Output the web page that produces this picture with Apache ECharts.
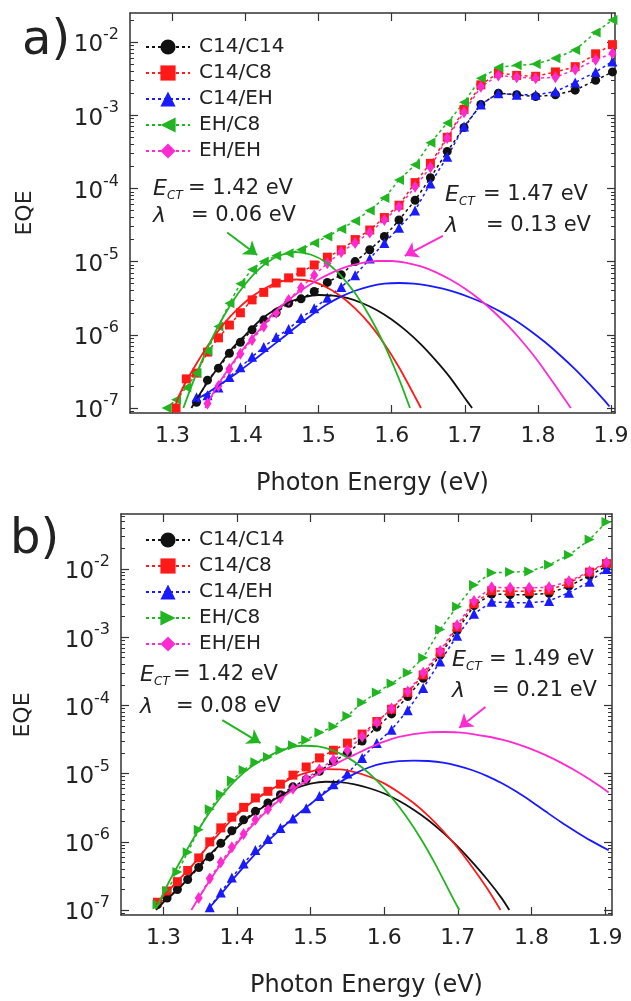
<!DOCTYPE html>
<html>
<head>
<meta charset="utf-8">
<title>EQE vs photon energy</title>
<script src="https://cdn.jsdelivr.net/npm/echarts@6.0.0/dist/echarts.min.js"></script>
<style>
  html, body { margin: 0; padding: 0; background: #fff; }
  #chart { width: 631px; height: 1001px; }
</style>
</head>
<body>
<div id="chart"></div>
<script>
const FONT = 'DejaVu Sans';
const AXIS = '#333';
const TEXT = '#222';

// photon energy of each measured point (eV), shared by both panels
const energy = [1.292, 1.305, 1.319, 1.333, 1.348, 1.363, 1.378, 1.393, 1.409, 1.425, 1.442, 1.459, 1.476, 1.494, 1.512, 1.531,
  1.550, 1.570, 1.590, 1.610, 1.632, 1.653, 1.676, 1.699, 1.722, 1.746, 1.771, 1.797, 1.824, 1.851, 1.879, 1.902];

// panel a) measured EQE
const aC14C14 = [null, null, null, 1.2e-7, 2.4e-7, 3.5e-7, 5.6e-7, 7.9e-7, 1.17e-6, 1.6e-6, 2.0e-6, 2.7e-6, 3.1e-6, 3.9e-6, 5.2e-6, 6.6e-6,
  1.0e-5, 1.45e-5, 2.2e-5, 3.7e-5, 6.9e-5, 1.4e-4, 3.2e-4, 6.8e-4, 1.4e-3, 2.0e-3, 1.9e-3, 1.8e-3, 1.9e-3, 2.2e-3, 3.0e-3, 3.9e-3];
const aC14C8 = [null, 1.0e-7, 2.5e-7, 3.0e-7, 5.8e-7, 9.1e-7, 1.36e-6, 2.0e-6, 3.0e-6, 3.8e-6, 5.1e-6, 6.0e-6, 7.2e-6, 9.0e-6, 1.15e-5, 1.45e-5,
  2.0e-5, 2.7e-5, 4.0e-5, 5.9e-5, 1.2e-4, 2.2e-4, 5.0e-4, 1.2e-3, 2.6e-3, 3.8e-3, 3.5e-3, 3.4e-3, 3.9e-3, 4.6e-3, 6.9e-3, 9.2e-3];
const aC14EH = [null, null, null, 1.4e-7, 1.5e-7, 1.9e-7, 2.65e-7, 3.6e-7, 5.0e-7, 6.8e-7, 9.3e-7, 1.2e-6, 1.7e-6, 2.3e-6, 3.2e-6, 4.5e-6,
  6.5e-6, 1.1e-5, 1.8e-5, 2.9e-5, 5.0e-5, 1.17e-4, 2.7e-4, 7.0e-4, 1.4e-3, 2.0e-3, 1.9e-3, 1.9e-3, 2.1e-3, 2.8e-3, 3.9e-3, 5.4e-3];
const aEHC8 = [1.0e-7, 1.3e-7, 1.9e-7, 3.0e-7, 6.0e-7, 1.3e-6, 2.7e-6, 5.0e-6, 7.8e-6, 1.0e-5, 1.2e-5, 1.3e-5, 1.45e-5, 1.8e-5, 2.2e-5, 2.8e-5,
  3.6e-5, 5.0e-5, 7.4e-5, 1.3e-4, 2.1e-4, 4.2e-4, 7.8e-4, 1.5e-3, 3.2e-3, 4.5e-3, 4.8e-3, 5.0e-3, 6.0e-3, 7.8e-3, 1.35e-2, 2.0e-2];
const aEHEH = [null, null, null, null, 1.15e-7, 2.0e-7, 3.4e-7, 5.5e-7, 8.5e-7, 1.3e-6, 2.0e-6, 3.0e-6, 4.4e-6, 6.5e-6, 9.5e-6, 1.35e-5,
  1.8e-5, 2.5e-5, 3.7e-5, 5.6e-5, 1.05e-4, 1.95e-4, 4.9e-4, 1.1e-3, 2.45e-3, 3.5e-3, 3.3e-3, 3.2e-3, 3.3e-3, 4.2e-3, 5.7e-3, 7.0e-3];

// panel b) measured EQE
const bC14C14 = [1.2e-7, 1.5e-7, 2.0e-7, 2.8e-7, 4.2e-7, 6.0e-7, 9.5e-7, 1.45e-6, 2.1e-6, 2.8e-6, 3.7e-6, 4.9e-6, 6.4e-6, 8.2e-6, 1.08e-5, 1.5e-5,
  2.0e-5, 3.0e-5, 4.8e-5, 7.5e-5, 1.35e-4, 2.5e-4, 5.5e-4, 1.25e-3, 2.9e-3, 4.3e-3, 4.2e-3, 4.2e-3, 4.4e-3, 5.6e-3, 8.0e-3, 1.1e-2];
const bC14C8 = [1.3e-7, 1.9e-7, 2.6e-7, 3.8e-7, 5.8e-7, 1.0e-6, 1.6e-6, 2.3e-6, 3.2e-6, 4.4e-6, 5.5e-6, 7.0e-6, 9.5e-6, 1.25e-5, 1.7e-5, 2.2e-5,
  2.8e-5, 3.8e-5, 5.8e-5, 8.8e-5, 1.55e-4, 2.8e-4, 6.0e-4, 1.4e-3, 3.1e-3, 4.8e-3, 4.7e-3, 4.7e-3, 4.9e-3, 6.2e-3, 9.0e-3, 1.2e-2];
const bC14EH = [null, null, null, null, null, 1.1e-7, 1.8e-7, 3.0e-7, 4.8e-7, 7.6e-7, 1.1e-6, 1.6e-6, 2.2e-6, 3.1e-6, 4.7e-6, 7.0e-6,
  1.0e-5, 1.7e-5, 2.8e-5, 4.4e-5, 8.5e-5, 1.8e-4, 4.4e-4, 1.05e-3, 2.2e-3, 3.3e-3, 3.2e-3, 3.2e-3, 3.4e-3, 4.5e-3, 6.5e-3, 1.0e-2];
const bEHC8 = [1.2e-7, 1.9e-7, 3.6e-7, 7.0e-7, 1.5e-6, 3.0e-6, 5.0e-6, 7.9e-6, 1.13e-5, 1.47e-5, 1.75e-5, 2.2e-5, 2.6e-5, 3.1e-5, 4.0e-5, 4.9e-5,
  7.0e-5, 1.1e-4, 1.55e-4, 2.1e-4, 3.0e-4, 5.0e-4, 1.3e-3, 2.8e-3, 5.8e-3, 8.8e-3, 9.0e-3, 9.2e-3, 1.15e-2, 1.6e-2, 2.7e-2, 4.9e-2];
const bEHEH = [null, null, null, null, 1.5e-7, 2.9e-7, 5.0e-7, 8.3e-7, 1.3e-6, 2.1e-6, 3.0e-6, 4.4e-6, 6.0e-6, 8.5e-6, 1.15e-5, 1.6e-5,
  2.2e-5, 3.5e-5, 5.6e-5, 9.0e-5, 1.6e-4, 3.0e-4, 6.3e-4, 1.5e-3, 3.4e-3, 5.4e-3, 5.3e-3, 5.3e-3, 5.4e-3, 6.6e-3, 9.2e-3, 1.25e-2];

// CT-state fits, [energy, EQE]
const fitA_C14C14 = [[1.326, 1.0e-7], [1.34, 1.7e-7], [1.36, 3.3e-7], [1.38, 6.2e-7], [1.40, 1.0e-6], [1.42, 1.58e-6], [1.44, 2.2e-6],
  [1.46, 2.8e-6], [1.48, 3.27e-6], [1.50, 3.5e-6], [1.52, 3.43e-6], [1.54, 3.16e-6], [1.56, 2.7e-6], [1.58, 2.17e-6], [1.60, 1.62e-6],
  [1.62, 1.13e-6], [1.64, 7.4e-7], [1.66, 4.5e-7], [1.68, 2.6e-7], [1.70, 1.37e-7], [1.71, 1.0e-7]];
const fitA_C14C8 = [[1.303, 1.0e-7], [1.31, 1.55e-7], [1.33, 3.6e-7], [1.35, 7.5e-7], [1.37, 1.4e-6], [1.39, 2.3e-6], [1.41, 3.4e-6],
  [1.43, 4.5e-6], [1.45, 5.4e-6], [1.47, 5.7e-6], [1.49, 5.4e-6], [1.51, 4.5e-6], [1.53, 3.4e-6], [1.55, 2.3e-6], [1.57, 1.4e-6],
  [1.59, 7.5e-7], [1.61, 3.6e-7], [1.63, 1.55e-7], [1.64, 1.0e-7]];
const fitA_C14EH = [[1.33, 1.25e-7], [1.35, 1.65e-7], [1.37, 2.25e-7], [1.39, 3.1e-7], [1.41, 4.4e-7], [1.43, 6.3e-7], [1.45, 9.0e-7],
  [1.47, 1.3e-6], [1.49, 1.85e-6], [1.51, 2.55e-6], [1.53, 3.3e-6], [1.55, 4.0e-6], [1.57, 4.6e-6], [1.59, 5.0e-6], [1.61, 5.1e-6],
  [1.63, 5.0e-6], [1.65, 4.7e-6], [1.67, 4.27e-6], [1.69, 3.74e-6], [1.71, 3.16e-6], [1.73, 2.6e-6], [1.75, 2.04e-6], [1.77, 1.56e-6],
  [1.79, 1.13e-6], [1.81, 7.9e-7], [1.83, 5.3e-7], [1.85, 3.45e-7], [1.87, 2.15e-7], [1.89, 1.3e-7], [1.898, 1.05e-7]];
const fitA_EHC8 = [[1.315, 1.0e-7], [1.33, 2.5e-7], [1.35, 7.3e-7], [1.37, 1.78e-6], [1.39, 3.7e-6], [1.41, 6.5e-6], [1.43, 9.8e-6],
  [1.45, 1.24e-5], [1.47, 1.35e-5], [1.49, 1.24e-5], [1.51, 9.8e-6], [1.53, 6.5e-6], [1.55, 3.7e-6], [1.57, 1.78e-6], [1.59, 7.3e-7],
  [1.61, 2.5e-7], [1.625, 1.0e-7]];
const fitA_EHEH = [[1.345, 1.0e-7], [1.36, 1.9e-7], [1.38, 3.8e-7], [1.40, 7.0e-7], [1.42, 1.2e-6], [1.44, 2.05e-6], [1.46, 3.06e-6],
  [1.48, 4.3e-6], [1.50, 5.7e-6], [1.52, 7.2e-6], [1.54, 8.6e-6], [1.56, 9.6e-6], [1.58, 1.02e-5], [1.60, 1.02e-5], [1.62, 9.6e-6],
  [1.64, 8.6e-6], [1.66, 7.2e-6], [1.68, 5.7e-6], [1.70, 4.3e-6], [1.72, 3.06e-6], [1.74, 2.05e-6], [1.76, 1.3e-6], [1.78, 7.8e-7],
  [1.80, 4.4e-7], [1.82, 2.3e-7], [1.845, 1.0e-7]];

const fitB_C14C14 = [[1.29, 1.0e-7], [1.30, 1.3e-7], [1.32, 2.0e-7], [1.34, 3.5e-7], [1.36, 6.0e-7], [1.38, 9.8e-7], [1.40, 1.6e-6],
  [1.42, 2.45e-6], [1.44, 3.5e-6], [1.46, 4.8e-6], [1.48, 6.1e-6], [1.50, 7.1e-6], [1.52, 7.6e-6], [1.54, 7.5e-6], [1.56, 6.95e-6],
  [1.58, 6.1e-6], [1.60, 5.1e-6], [1.62, 4.0e-6], [1.64, 2.95e-6], [1.66, 2.07e-6], [1.68, 1.36e-6], [1.70, 8.5e-7], [1.72, 5.0e-7],
  [1.74, 2.8e-7], [1.76, 1.47e-7], [1.77, 1.0e-7]];
const fitB_C14C8 = [[1.29, 1.2e-7], [1.30, 1.6e-7], [1.32, 2.7e-7], [1.34, 4.6e-7], [1.36, 8.5e-7], [1.38, 1.5e-6], [1.40, 2.5e-6],
  [1.42, 3.8e-6], [1.44, 5.3e-6], [1.46, 7.1e-6], [1.48, 9.1e-6], [1.50, 1.07e-5], [1.52, 1.16e-5], [1.54, 1.15e-5], [1.56, 1.05e-5],
  [1.58, 9.0e-6], [1.60, 7.2e-6], [1.62, 5.3e-6], [1.64, 3.7e-6], [1.66, 2.4e-6], [1.68, 1.44e-6], [1.70, 8.1e-7], [1.72, 4.2e-7],
  [1.74, 2.06e-7], [1.758, 1.0e-7]];
const fitB_C14EH = [[1.36, 1.0e-7], [1.38, 1.8e-7], [1.40, 3.3e-7], [1.42, 5.8e-7], [1.44, 9.8e-7], [1.46, 1.55e-6], [1.48, 2.4e-6],
  [1.50, 3.6e-6], [1.52, 5.3e-6], [1.54, 7.5e-6], [1.56, 1.0e-5], [1.58, 1.24e-5], [1.60, 1.42e-5], [1.62, 1.52e-5], [1.64, 1.55e-5],
  [1.66, 1.53e-5], [1.68, 1.45e-5], [1.70, 1.3e-5], [1.72, 1.12e-5], [1.74, 9.2e-6], [1.76, 7.2e-6], [1.78, 5.4e-6], [1.80, 3.9e-6],
  [1.82, 2.75e-6], [1.84, 1.95e-6], [1.86, 1.42e-6], [1.88, 1.05e-6], [1.905, 7.5e-7]];
const fitB_EHC8 = [[1.29, 1.05e-7], [1.31, 2.9e-7], [1.33, 7.0e-7], [1.35, 1.65e-6], [1.37, 3.5e-6], [1.39, 6.5e-6], [1.41, 1.05e-5],
  [1.43, 1.5e-5], [1.45, 1.97e-5], [1.47, 2.37e-5], [1.49, 2.56e-5], [1.51, 2.5e-5], [1.53, 2.19e-5], [1.55, 1.73e-5], [1.57, 1.23e-5],
  [1.59, 7.9e-6], [1.61, 4.5e-6], [1.63, 2.35e-6], [1.65, 1.1e-6], [1.67, 4.6e-7], [1.69, 1.75e-7], [1.702, 1.0e-7]];
const fitB_EHEH = [[1.338, 1.0e-7], [1.36, 2.4e-7], [1.38, 5.0e-7], [1.40, 9.5e-7], [1.42, 1.7e-6], [1.44, 2.8e-6], [1.46, 4.3e-6],
  [1.48, 6.2e-6], [1.50, 8.5e-6], [1.52, 1.15e-5], [1.54, 1.5e-5], [1.56, 1.9e-5], [1.58, 2.4e-5], [1.60, 2.95e-5], [1.62, 3.45e-5],
  [1.64, 3.8e-5], [1.66, 4.03e-5], [1.68, 4.07e-5], [1.70, 4.03e-5], [1.72, 3.8e-5], [1.74, 3.5e-5], [1.76, 3.15e-5], [1.78, 2.72e-5],
  [1.80, 2.28e-5], [1.82, 1.85e-5], [1.84, 1.45e-5], [1.86, 1.1e-5], [1.88, 8.1e-6], [1.905, 5.3e-6]];

// annotation arrows [from, to] in data units
const arrowA_EHC8 = [[1.375, 2.5e-5], [1.416, 1.23e-5]];
const arrowA_EHEH = [[1.670, 2.24e-5], [1.618, 1.2e-5]];
const arrowB_EHC8 = [[1.380, 6.1e-5], [1.432, 2.8e-5]];
const arrowB_EHEH = [[1.7375, 9.5e-5], [1.702, 4.7e-5]];

const seriesNames = ['C14/C14', 'C14/C8', 'C14/EH', 'EH/C8', 'EH/EH'];
const ectLabels = ['1.42', '1.47', '1.42', '1.49'];
const lambdaLabels = ['0.06', '0.13', '0.08', '0.21'];
const xTicks = [1.3, 1.4, 1.5, 1.6, 1.7, 1.8, 1.9];
const yDecades = [1e-7, 1e-6, 1e-5, 1e-4, 1e-3, 1e-2];

const colors = { black: '#111111', red: '#ff1a1a', blue: '#1a1aff', green: '#22b522', magenta: '#ff2bd0' };

let yMinor = [];
[1e-8, 1e-7, 1e-6, 1e-5, 1e-4, 1e-3, 1e-2].forEach(d => {
  [2, 3, 4, 5, 6, 7, 8, 9].forEach(m => yMinor.push(m * d));
});

const chart = echarts.init(document.getElementById('chart'));

function pairs(values) {
  return energy.map((e, i) => [e, values[i]]).filter(p => p[1] !== null);
}

function dataSeries(panel, name, values, color, symbol, size, rotate) {
  const g = panel === 'a' ? 0 : 1;
  return {
    name: panel + ':' + name,
    type: 'line',
    xAxisIndex: g * 2,
    yAxisIndex: g * 4,
    data: pairs(values),
    symbol: symbol,
    symbolSize: size,
    symbolRotate: rotate || 0,
    lineStyle: { color: color, width: 1.5, type: [3, 3] },
    itemStyle: { color: color },
    emphasis: { disabled: true },
    silent: true,
    z: 3
  };
}

function fitSeries(panel, name, points, color, arrow) {
  const g = panel === 'a' ? 0 : 1;
  let s = {
    name: 'fit ' + panel + ':' + name,
    type: 'line',
    xAxisIndex: g * 2,
    yAxisIndex: g * 4,
    data: points,
    smooth: 0.25,
    symbol: 'none',
    lineStyle: { color: color, width: 1.8 },
    emphasis: { disabled: true },
    silent: true,
    z: 4
  };
  if (arrow) {
    s.markLine = {
      silent: true,
      symbol: ['none', 'arrow'],
      symbolSize: 13,
      lineStyle: { color: color, width: 2, type: 'solid' },
      label: { show: false },
      data: [[{ coord: arrow[0] }, { coord: arrow[1] }]]
    };
  }
  return s;
}

function xAxes(grid, min, max) {
  const base = {
    gridIndex: grid, type: 'value', min: min, max: max,
    splitLine: { show: false },
    axisLine: { show: true, onZero: false, lineStyle: { color: AXIS, width: 1.5 } },
    axisTick: { inside: true, length: 8, customValues: xTicks, lineStyle: { color: AXIS, width: 1.2 } }
  };
  return [
    Object.assign({}, base, {
      position: 'bottom',
      axisLabel: { customValues: xTicks, formatter: v => v.toFixed(1), margin: 12, fontSize: 22, color: TEXT, fontFamily: FONT },
      name: 'Photon Energy (eV)', nameLocation: 'middle', nameGap: 59,
      nameTextStyle: { fontSize: 24, color: TEXT, fontFamily: FONT }
    }),
    Object.assign({}, base, { position: 'top', axisLabel: { show: false } })
  ];
}

function yAxes(grid, min, max) {
  const base = {
    gridIndex: grid, type: 'log', min: min, max: max,
    splitLine: { show: false },
    axisLine: { show: true, onZero: false, lineStyle: { color: AXIS, width: 1.5 } }
  };
  const major = { inside: true, length: 8, customValues: yDecades, lineStyle: { color: AXIS, width: 1.2 } };
  const minor = { inside: true, length: 4, customValues: yMinor, lineStyle: { color: AXIS, width: 1 } };
  return [
    Object.assign({}, base, {
      position: 'left', axisTick: major,
      axisLabel: {
        customValues: yDecades, margin: 11,
        formatter: v => '{b|10}{s|' + Math.round(Math.log10(v)) + '}',
        rich: {
          b: { fontSize: 23, color: TEXT, fontFamily: FONT, verticalAlign: 'bottom' },
          s: { fontSize: 16, color: TEXT, fontFamily: FONT, verticalAlign: 'top', padding: [0, 0, 14, 0] }
        }
      }
    }),
    Object.assign({}, base, { position: 'left', axisLine: { show: false }, axisTick: minor, axisLabel: { show: false } }),
    Object.assign({}, base, { position: 'right', axisTick: major, axisLabel: { show: false } }),
    Object.assign({}, base, { position: 'right', axisLine: { show: false }, axisTick: minor, axisLabel: { show: false } })
  ];
}

function legendFor(panel, top) {
  return {
    orient: 'vertical', left: 140, top: top,
    itemWidth: 44, itemHeight: 19, itemGap: 6,
    selectedMode: false,
    data: seriesNames.map(n => panel + ':' + n),
    formatter: name => name.slice(2),
    textStyle: { fontSize: 20, color: TEXT, fontFamily: FONT, padding: [0, 0, 0, 4] }
  };
}

function txt(x, y, text, size, opts) {
  return {
    type: 'text', x: x, y: y, silent: true,
    rotation: (opts && opts.rotation) || 0,
    style: {
      text: text, fill: TEXT,
      font: ((opts && opts.italic) ? 'italic ' : '') + size + 'px "' + FONT + '"',
      align: (opts && opts.align) || 'left', verticalAlign: 'middle'
    }
  };
}

// E_CT / lambda block: xE = left of the symbols, xEq = left of the "=" signs
function annotation(xE, xEq, y1, y2, i) {
  return [
    txt(xE, y1, 'E', 22, { italic: true }),
    txt(xE + 14, y1 + 7, 'CT', 12, { italic: true }),
    txt(xEq, y1, '= ' + ectLabels[i] + ' eV', 21),
    txt(xE, y2, 'λ', 22, { italic: true }),
    txt(xEq + 3, y2, '= ' + lambdaLabels[i] + ' eV', 21)
  ];
}

const option = {
  animation: false,
  backgroundColor: '#fff',
  grid: [
    { left: 130, top: 13, width: 485, height: 400, outerBoundsMode: 'none' },
    { left: 121, top: 514, width: 491, height: 401, outerBoundsMode: 'none' }
  ],
  xAxis: xAxes(0, 1.242, 1.9055).concat(xAxes(1, 1.2424, 1.9095)),
  yAxis: yAxes(0, 8.55e-8, 2.49e-2).concat(yAxes(1, 8.45e-8, 6.4e-2)),
  legend: [legendFor('a', 32), legendFor('b', 525)],
  series: [
    fitSeries('a', 'C14/C14', fitA_C14C14, colors.black),
    fitSeries('a', 'C14/C8', fitA_C14C8, colors.red),
    fitSeries('a', 'C14/EH', fitA_C14EH, colors.blue),
    fitSeries('a', 'EH/C8', fitA_EHC8, colors.green, arrowA_EHC8),
    fitSeries('a', 'EH/EH', fitA_EHEH, colors.magenta, arrowA_EHEH),
    dataSeries('a', 'C14/C14', aC14C14, colors.black, 'circle', 9),
    dataSeries('a', 'C14/C8', aC14C8, colors.red, 'rect', 9),
    dataSeries('a', 'C14/EH', aC14EH, colors.blue, 'triangle', 10),
    dataSeries('a', 'EH/C8', aEHC8, colors.green, 'triangle', 10, 90),
    dataSeries('a', 'EH/EH', aEHEH, colors.magenta, 'diamond', [8, 12]),
    fitSeries('b', 'C14/C14', fitB_C14C14, colors.black),
    fitSeries('b', 'C14/C8', fitB_C14C8, colors.red),
    fitSeries('b', 'C14/EH', fitB_C14EH, colors.blue),
    fitSeries('b', 'EH/C8', fitB_EHC8, colors.green, arrowB_EHC8),
    fitSeries('b', 'EH/EH', fitB_EHEH, colors.magenta, arrowB_EHEH),
    dataSeries('b', 'C14/C14', bC14C14, colors.black, 'circle', 9),
    dataSeries('b', 'C14/C8', bC14C8, colors.red, 'rect', 9),
    dataSeries('b', 'C14/EH', bC14EH, colors.blue, 'triangle', 10),
    dataSeries('b', 'EH/C8', bEHC8, colors.green, 'triangle', 10, -90),
    dataSeries('b', 'EH/EH', bEHEH, colors.magenta, 'diamond', [8, 12])
  ],
  graphic: [
    txt(22, 42, 'a)', 48),
    txt(10, 541, 'b)', 48),
    txt(25, 213, 'EQE', 22, { rotation: Math.PI / 2, align: 'center' }),
    txt(23, 715, 'EQE', 22, { rotation: Math.PI / 2, align: 'center' })
  ].concat(
    annotation(153, 188, 189, 216, 0),
    annotation(445, 483, 195, 226, 1),
    annotation(140, 173, 675, 707, 2),
    annotation(452, 489, 660, 691, 3)
  )
};

chart.setOption(option);
</script>
</body>
</html>
